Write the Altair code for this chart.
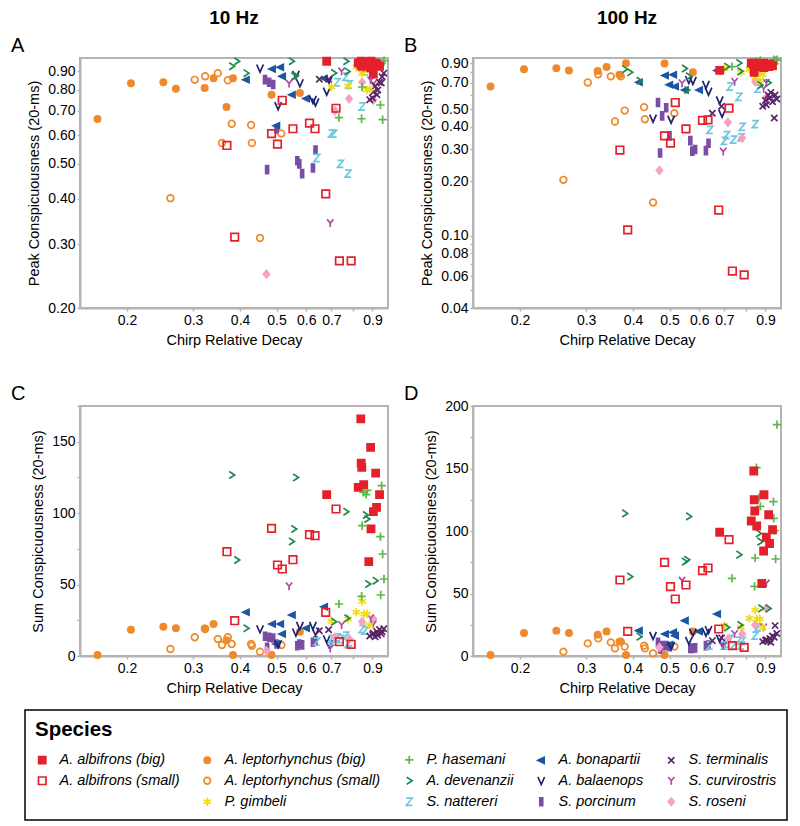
import altair as alt
import pandas as pd

# ---------------- data ----------------
ALB_BIG_X = [0.68, 0.825, 0.838, 0.84, 0.843, 0.853, 0.88, 0.89, 0.892, 0.905, 0.918, 0.923, 0.94]
ALB_BIG_P10 = [0.96, 0.95, 0.94, 0.96, 0.93, 0.95, 0.94, 0.92, 0.96, 0.885, 0.95, 0.94, 0.93]
ALB_BIG_P100 = [0.82, 0.90, 0.88, 0.80, 0.90, 0.86, 0.88, 0.90, 0.85, 0.88, 0.86, 0.89, 0.87]
ALB_BIG_S10 = [113, 118, 166, 135, 132, 120, 66, 146, 89, 101, 128, 104, 113]
ALB_BIG_S100 = [99, 108, 148, 125, 116, 104, 58, 84, 129, 95, 113, 90, 101]

ALB_SMALL_X = [0.369, 0.387, 0.485, 0.503, 0.518, 0.553, 0.612, 0.633, 0.676, 0.72, 0.735, 0.79]
ALB_SMALL_P10 = [0.562, 0.314, 0.606, 0.567, 0.749, 0.625, 0.648, 0.625, 0.413, 0.712, 0.270, 0.270]
ALB_SMALL_P100 = [0.298, 0.108, 0.357, 0.325, 0.545, 0.390, 0.434, 0.437, 0.139, 0.507, 0.064, 0.061]
ALB_SMALL_S10 = [73.0, 24.7, 89.3, 63.7, 60.9, 67.4, 84.9, 84.2, 30.6, 102.9, 10.0, 8.2]
ALB_SMALL_S100 = [60.8, 19.7, 74.9, 55.5, 45.6, 56.8, 68.3, 70.4, 21.6, 93.1, 8.3, 6.9]

LEP_BIG_X = [0.167, 0.205, 0.25, 0.27, 0.322, 0.34, 0.368, 0.383, 0.485, 0.577]
LEP_BIG_P10 = [0.665, 0.835, 0.84, 0.806, 0.81, 0.862, 0.718, 0.862, 0.776, 0.785]
LEP_BIG_P100 = [0.668, 0.833, 0.844, 0.82, 0.815, 0.857, 0.775, 0.898, 0.894, 0.80]
LEP_BIG_S10 = [0.7, 18.4, 20.5, 19.4, 19.3, 22.4, 11.0, 0.7, 0.7, 17.0]
LEP_BIG_S100 = [0.8, 18.4, 20.3, 18.4, 17.1, 19.7, 11.5, 0.8, 0.8, 19.7]

LEP_SMALL_X = [0.261, 0.303, 0.323, 0.349, 0.358, 0.371, 0.380, 0.428, 0.43, 0.452, 0.515]
LEP_SMALL_P10 = [0.402, 0.853, 0.873, 0.89, 0.571, 0.851, 0.645, 0.64, 0.571, 0.312, 0.606]
LEP_SMALL_P100 = [0.204, 0.703, 0.78, 0.76, 0.428, 0.76, 0.492, 0.514, 0.441, 0.153, 0.476]
LEP_SMALL_S10 = [4.9, 13.1, 18.9, 11.9, 7.7, 13.1, 8.4, 8.4, 7.2, 3.0, 7.7]
LEP_SMALL_S100 = [3.5, 10.1, 14.1, 10.9, 6.1, 11.5, 7.5, 8.3, 6.1, 2.1, 7.5]

GIM_X = [0.70, 0.775, 0.815, 0.845, 0.855, 0.87, 0.885]
GIM_P10 = [0.815, 0.82, 0.925, 0.89, 0.905, 0.80, 0.805]
GIM_P100 = [0.84, 0.80, 0.83, 0.75, 0.80, 0.72, 0.78]
GIM_S10 = [24.3, 25.9, 30.6, 38.3, 29.4, 29.4, 21.7]
GIM_S100 = [24.3, 22.9, 30.1, 36.8, 29.6, 29.6, 22.9]

HAS_X = [0.733, 0.842, 0.845, 0.852, 0.866, 0.872, 0.945, 0.947, 0.952, 0.958, 0.966]
HAS_P10 = [0.671, 0.666, 0.815, 0.92, 0.94, 0.95, 0.727, 0.94, 0.95, 0.662, 0.964]
HAS_P100 = [0.86, 0.88, 0.90, 0.92, 0.91, 0.93, 0.90, 0.94, 0.89, 0.93, 0.94]
HAS_S10 = [36.4, 41.8, 91.2, 114.5, 113.0, 116.0, 83.5, 42.7, 119.2, 71.4, 53.9]
HAS_S100 = [62.1, 55.7, 78.4, 150.7, 126.9, 119.7, 123.5, 110.1, 100.3, 77.6, 185.1]

DEV_X = [0.38, 0.392, 0.415, 0.548, 0.556, 0.562, 0.71, 0.765, 0.77, 0.862, 0.87, 0.875, 0.915]
DEV_P10 = [0.93, 0.96, 0.89, 0.96, 0.873, 0.875, 0.891, 0.96, 0.90, 0.95, 0.94, 0.96, 0.95]
DEV_P100 = [0.833, 0.80, 0.718, 0.84, 0.64, 0.76, 0.86, 0.90, 0.81, 0.88, 0.68, 0.85, 0.70]
DEV_S10 = [126.7, 67.2, 19.4, 80.2, 88.9, 125.0, 24.0, 101.0, 26.4, 98.7, 95.9, 50.4, 52.7]
DEV_S100 = [114.1, 63.5, 15.5, 75.5, 77.0, 111.7, 22.9, 81.1, 24.8, 98.1, 91.5, 38.1, 38.1]

BON_X = [0.415, 0.487, 0.50, 0.512, 0.518, 0.55, 0.60, 0.67]
BON_P10 = [0.854, 0.914, 0.637, 0.924, 0.872, 0.776, 0.757, 0.86]
BON_P100 = [0.705, 0.769, 0.684, 0.776, 0.668, 0.64, 0.64, 0.818]
BON_S10 = [30.6, 22.4, 8.4, 22.4, 15.4, 28.7, 19.4, 34.5]
BON_S100 = [20.3, 17.6, 9.0, 18.9, 16.3, 28.3, 19.7, 33.6]

BAL_X = [0.452, 0.505, 0.563, 0.577, 0.625, 0.635, 0.68, 0.69]
BAL_P10 = [0.918, 0.723, 0.882, 0.836, 0.752, 0.74, 0.793, 0.855]
BAL_P100 = [0.446, 0.44, 0.728, 0.72, 0.684, 0.628, 0.562, 0.475]
BAL_S10 = [18.9, 8.4, 16.6, 21.2, 21.2, 17.0, 11.9, 8.4]
BAL_S100 = [16.3, 8.3, 12.3, 18.9, 18.9, 21.0, 14.1, 10.9]

NAT_X = [0.64, 0.70, 0.71, 0.725, 0.74, 0.765, 0.775, 0.78, 0.845, 0.86]
NAT_P10 = [0.519, 0.606, 0.606, 0.84, 0.50, 0.87, 0.47, 0.828, 0.72, 0.90]
NAT_P100 = [0.385, 0.335, 0.36, 0.668, 0.34, 0.586, 0.35, 0.40, 0.414, 0.65]
NAT_S10 = [10.0, 12.0, 10.0, 13.1, 11.9, 14.2, 8.4, 9.6, 18.9, 17.7]
NAT_S100 = [8.3, 8.3, 10.0, 13.6, 8.3, 12.3, 8.3, 12.0, 16.3, 22.9]

POR_X = [0.466, 0.472, 0.478, 0.49, 0.50, 0.568, 0.575, 0.585, 0.625, 0.635]
POR_P10 = [0.854, 0.482, 0.84, 0.828, 0.625, 0.51, 0.50, 0.47, 0.487, 0.546]
POR_P100 = [0.545, 0.287, 0.46, 0.51, 0.357, 0.336, 0.294, 0.30, 0.296, 0.325]
POR_S10 = [13.8, 6.0, 13.1, 12.6, 8.4, 7.2, 8.4, 7.8, 9.6, 10.7]
POR_S100 = [10.9, 5.6, 8.3, 8.3, 7.5, 6.1, 6.1, 6.5, 8.3, 8.8]

TER_X = [0.65, 0.688, 0.885, 0.90, 0.905, 0.915, 0.925, 0.93, 0.94, 0.95, 0.955, 0.965]
TER_P10 = [0.856, 0.856, 0.752, 0.76, 0.79, 0.82, 0.776, 0.80, 0.84, 0.836, 0.87, 0.89]
TER_P100 = [0.476, 0.52, 0.52, 0.56, 0.53, 0.60, 0.58, 0.62, 0.55, 0.448, 0.60, 0.57]
TER_S10 = [17.7, 18.4, 14.0, 15.0, 16.0, 13.5, 17.0, 14.5, 18.5, 15.5, 17.0, 19.0]
TER_S100 = [12.3, 14.5, 11.5, 12.5, 13.0, 12.0, 14.0, 11.0, 16.0, 15.0, 24.3, 18.0]

CUR_X = [0.54, 0.695, 0.745, 0.89, 0.905]
CUR_P10 = [0.833, 0.343, 0.90, 0.85, 0.83]
CUR_P100 = [0.697, 0.292, 0.71, 0.65, 0.70]
CUR_S10 = [48.8, 5.2, 21.7, 26.4, 22.0]
CUR_S100 = [60.3, 8.0, 17.6, 22.9, 58.1]

ROS_X = [0.47, 0.715, 0.78, 0.845, 0.905]
ROS_P10 = [0.248, 0.70, 0.756, 0.84, 0.75]
ROS_P100 = [0.23, 0.424, 0.347, 0.71, 0.58]
ROS_S10 = [3.7, 13.1, 12.0, 24.0, 25.9]
ROS_S100 = [6.9, 13.6, 17.6, 24.8, 38.1]

X_TICKS = [0.2, 0.3, 0.4, 0.5, 0.6, 0.7, 0.8, 0.9]
PEAK10_TICKS = [0.2, 0.3, 0.4, 0.5, 0.6, 0.7, 0.8, 0.9]
PEAK100_TICKS = [0.04, 0.05, 0.06, 0.07, 0.08, 0.09, 0.1, 0.2, 0.3, 0.4, 0.5, 0.6, 0.7, 0.8, 0.9]
SUM10_TICKS = [0, 25, 50, 75, 100, 125, 150, 175]
SUM100_TICKS = [0, 25, 50, 75, 100, 125, 150, 175, 200]

# ---------------- species styling ----------------
SQ_F = "M-0.85,-0.85H0.85V0.85H-0.85Z"
SQ_O = "M-0.9,-0.9H0.9V0.9H-0.9Z"
CI_F = "M-0.75,0A0.75,0.75 0 1,0 0.75,0A0.75,0.75 0 1,0 -0.75,0Z"
CI_O = "M-0.8,0A0.8,0.8 0 1,0 0.8,0A0.8,0.8 0 1,0 -0.8,0Z"
AST = "M0,-1V1M-0.87,-0.5L0.87,0.5M-0.87,0.5L0.87,-0.5"
PLUS = "M-1,0H1M0,-1V1"
GT = "M-0.6,-0.85L0.7,0L-0.6,0.85"
ZED = "M-0.7,-0.85H0.7L-0.7,0.85H0.7"
TRI_L = "M-0.8,0L0.7,-0.7L0.7,0.7Z"
VEE = "M-0.8,-0.9L0,0.9L0.8,-0.9"
BAR = "M-0.35,-0.95H0.35V0.95H-0.35Z"
EKS = "M-0.75,-0.75L0.75,0.75M-0.75,0.75L0.75,-0.75"
WYE = "M-0.75,-0.9L0,0L0.75,-0.9M0,0V0.95"
DIA = "M0,-0.9L0.75,0L0,0.9L-0.75,0Z"

BLANK = " "
# legend order (column-major, 5 columns x 3 rows)
SPECIES = ["A. albifrons (big)", "A. albifrons (small)", BLANK,
           "A. leptorhynchus (big)", "A. leptorhynchus (small)", "P. gimbeli",
           "P. hasemani", "A. devenanzii", "S. nattereri",
           "A. bonapartii", "A. balaenops", "S. porcinum",
           "S. terminalis", "S. curvirostris", "S. roseni"]
COLORS = ["#e4202a", "#e4202a", "transparent",
          "#ef8a2c", "#ef8a2c", "#f0dc10",
          "#5cb848", "#1e8a4c", "#6dc8de",
          "#1d55a3", "#1c2270", "#7a4ea3",
          "#5a2468", "#b04aa6", "#f3a3c6"]
FILLS = ["#e4202a", "transparent", "transparent",
         "#ef8a2c", "transparent", "transparent",
         "transparent", "transparent", "transparent",
         "#1d55a3", "transparent", "#7a4ea3",
         "transparent", "transparent", "#f3a3c6"]
SHAPES = [SQ_F, SQ_O, CI_F,
          CI_F, CI_O, AST,
          PLUS, GT, ZED,
          TRI_L, VEE, BAR,
          EKS, WYE, DIA]

groups = [
    ("A. leptorhynchus (big)", LEP_BIG_X, LEP_BIG_P10, LEP_BIG_P100, LEP_BIG_S10, LEP_BIG_S100),
    ("A. leptorhynchus (small)", LEP_SMALL_X, LEP_SMALL_P10, LEP_SMALL_P100, LEP_SMALL_S10, LEP_SMALL_S100),
    ("S. porcinum", POR_X, POR_P10, POR_P100, POR_S10, POR_S100),
    ("A. bonapartii", BON_X, BON_P10, BON_P100, BON_S10, BON_S100),
    ("A. balaenops", BAL_X, BAL_P10, BAL_P100, BAL_S10, BAL_S100),
    ("S. nattereri", NAT_X, NAT_P10, NAT_P100, NAT_S10, NAT_S100),
    ("S. roseni", ROS_X, ROS_P10, ROS_P100, ROS_S10, ROS_S100),
    ("S. curvirostris", CUR_X, CUR_P10, CUR_P100, CUR_S10, CUR_S100),
    ("S. terminalis", TER_X, TER_P10, TER_P100, TER_S10, TER_S100),
    ("P. gimbeli", GIM_X, GIM_P10, GIM_P100, GIM_S10, GIM_S100),
    ("P. hasemani", HAS_X, HAS_P10, HAS_P100, HAS_S10, HAS_S100),
    ("A. devenanzii", DEV_X, DEV_P10, DEV_P100, DEV_S10, DEV_S100),
    ("A. albifrons (small)", ALB_SMALL_X, ALB_SMALL_P10, ALB_SMALL_P100, ALB_SMALL_S10, ALB_SMALL_S100),
    ("A. albifrons (big)", ALB_BIG_X, ALB_BIG_P10, ALB_BIG_P100, ALB_BIG_S10, ALB_BIG_S100),
]
rows = []
for name, xs, p10, p100, s10, s100 in groups:
    for i in range(len(xs)):
        rows.append({"species": name, "x": xs[i], "p10": p10[i], "p100": p100[i],
                     "s10": s10[i], "s100": s100[i]})
df = pd.DataFrame(rows)

GRAY = "#b4b4b4"
FONT = "Liberation Sans"
W, H = 308, 250

LEGEND = alt.Legend(
    title="Species", orient="none", legendX=-55, legendY=652, columns=5,
    columnPadding=20, rowPadding=5, labelFontSize=14.5, labelFontStyle="italic",
    labelLimit=400, titleFontSize=20.5, titleFontWeight="bold", titlePadding=12,
    symbolSize=70, symbolStrokeWidth=1.7, labelOffset=10, strokeColor="black",
    padding=10, cornerRadius=0, fillColor="white", labelColor="black",
    titleColor="black",
)

x_scale = alt.Scale(type="log", domain=[0.15, 0.99], nice=False)
x_axis = alt.Axis(values=X_TICKS, format=".1f", labelExpr="datum.label == '0.8' ? '' : datum.label",
                  title="Chirp Relative Decay")


def panel(field, ytitle, yscale, yaxis, letter, top=None):
    pts = alt.Chart(df).mark_point(opacity=1, strokeWidth=1.7, size=70).encode(
        x=alt.X("x:Q", scale=x_scale, axis=x_axis),
        y=alt.Y(f"{field}:Q", scale=yscale, axis=yaxis, title=ytitle),
        shape=alt.Shape("species:N", scale=alt.Scale(domain=SPECIES, range=SHAPES), legend=LEGEND),
        fill=alt.Fill("species:N", scale=alt.Scale(domain=SPECIES, range=FILLS), legend=LEGEND),
        stroke=alt.Stroke("species:N", scale=alt.Scale(domain=SPECIES, range=COLORS), legend=LEGEND),
    )
    lab = alt.Chart(pd.DataFrame({"t": [letter]})).mark_text(
        fontSize=20, align="left", baseline="alphabetic", font=FONT, color="black"
    ).encode(x=alt.value(-69), y=alt.value(-6), text="t:N")
    ch = alt.layer(pts, lab).properties(width=W, height=H)
    if top:
        ch = ch.properties(title=alt.TitleParams(top, fontSize=19, fontWeight="bold", anchor="middle",
                                                 offset=8, frame="group", font=FONT, color="black"))
    return ch


A = panel("p10", "Peak Conspicuousness (20-ms)",
          alt.Scale(type="log", domain=[0.2, 0.98], nice=False),
          alt.Axis(values=PEAK10_TICKS, format=".2f"), "A", "10 Hz")
B = panel("p100", "Peak Conspicuousness (20-ms)",
          alt.Scale(type="log", domain=[0.04, 0.96], nice=False),
          alt.Axis(values=PEAK100_TICKS, format=".2f",
                   labelExpr="indexof(['0.05','0.07','0.09','0.60','0.80'], datum.label) >= 0 ? '' : datum.label"),
          "B", "100 Hz")
C = panel("s10", "Sum Conspicuousness (20-ms)",
          alt.Scale(domain=[0, 175], nice=False),
          alt.Axis(values=SUM10_TICKS, labelExpr="datum.value % 50 == 0 ? datum.label : ''"), "C")
D = panel("s100", "Sum Conspicuousness (20-ms)",
          alt.Scale(domain=[0, 200], nice=False),
          alt.Axis(values=SUM100_TICKS, labelExpr="datum.value % 50 == 0 ? datum.label : ''"), "D")

shared = dict(shape="shared", fill="shared", stroke="shared")
top_row = alt.hconcat(A, B, spacing=10).resolve_scale(**shared)
bot_row = alt.hconcat(C, D, spacing=10).resolve_scale(**shared)

chart = alt.vconcat(top_row, bot_row, spacing=35).resolve_scale(**shared).properties(
    padding={"left": 2, "top": 0, "right": 0, "bottom": 0}
).configure(font=FONT).configure_view(
    stroke=GRAY, strokeWidth=2
).configure_axis(
    grid=False, labelFontSize=14, titleFontSize=14.5, titleFontWeight="normal",
    labelColor="black", titleColor="black", domainColor=GRAY, domainWidth=2,
    tickColor=GRAY, tickWidth=1.5, tickSize=3, labelPadding=2, titlePadding=6,
    labelFont=FONT, titleFont=FONT,
).configure_legend(strokeWidth=1.5)

chart.save("out.html", embed_options={"renderer": "svg", "actions": False})
